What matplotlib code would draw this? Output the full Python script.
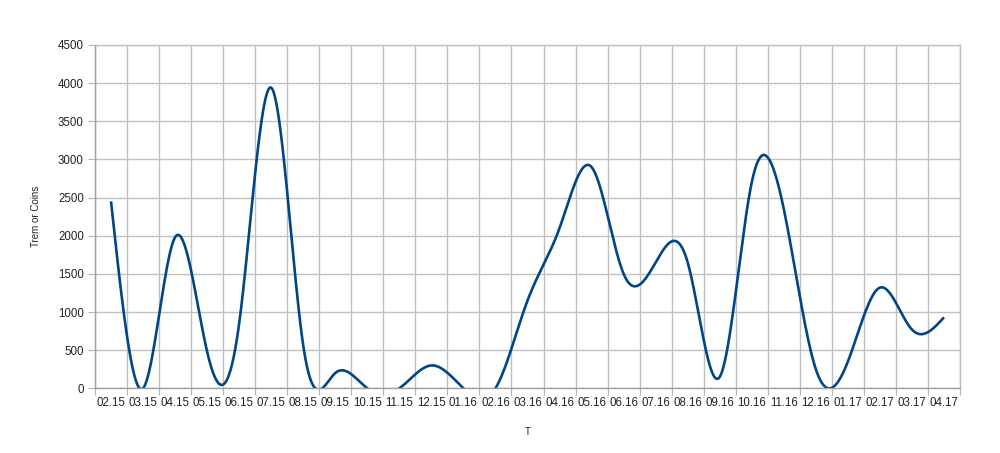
import numpy as np
import matplotlib
matplotlib.use('Agg')
import matplotlib.pyplot as plt

# monthly values
months = ['02.15', '03.15', '04.15', '05.15', '06.15', '07.15', '08.15', '09.15', '10.15',
          '11.15', '12.15', '01.16', '02.16', '03.16', '04.16', '05.16', '06.16', '07.16',
          '08.16', '09.16', '10.16', '11.16', '12.16', '01.17', '02.17', '03.17', '04.17']
coins = [2450, 0, 1980, 480, 850, 3940, 560, 200, 0,
         0, 300, 0, 0, 1150, 2100, 2900, 1500, 1650,
         1650, 150, 2700, 2350, 250, 350, 1320, 770, 930]


def natural_spline(x, y, xs):
    # plain natural cubic spline, only used to draw the smoothed line
    x = np.asarray(x, float)
    y = np.asarray(y, float)
    n = len(x)
    h = np.diff(x)
    A = np.zeros((n, n))
    b = np.zeros(n)
    A[0, 0] = 1
    A[-1, -1] = 1
    for i in range(1, n - 1):
        A[i, i - 1] = h[i - 1]
        A[i, i] = 2 * (h[i - 1] + h[i])
        A[i, i + 1] = h[i]
        b[i] = 6 * ((y[i + 1] - y[i]) / h[i] - (y[i] - y[i - 1]) / h[i - 1])
    m = np.linalg.solve(A, b)
    idx = np.clip(np.searchsorted(x, xs) - 1, 0, n - 2)
    x0, x1 = x[idx], x[idx + 1]
    hh = x1 - x0
    t0 = x1 - xs
    t1 = xs - x0
    return (m[idx] * t0**3 / (6 * hh) + m[idx + 1] * t1**3 / (6 * hh)
            + (y[idx] / hh - m[idx] * hh / 6) * t0
            + (y[idx + 1] / hh - m[idx + 1] * hh / 6) * t1)


pos = np.arange(len(months))
xs = np.linspace(0, len(months) - 1, 2000)
ys = natural_spline(pos, coins, xs)

plt.rcParams['font.family'] = ['Liberation Sans', 'DejaVu Sans']

fig = plt.figure(figsize=(10, 4.53), dpi=100)
ax = fig.add_axes([0.095, 0.1428, 0.865, 0.7579])

ax.plot(xs, ys, color='#004586', linewidth=1.9, solid_capstyle='butt')

ax.set_xlim(-0.5, len(months) - 0.5)
ax.set_ylim(0, 4500)
ax.set_yticks(np.arange(0, 4501, 500))

ax.set_xticks(np.arange(-0.5, len(months), 1.0))
ax.set_xticklabels([])
ax.set_xticks(pos, minor=True)
ax.set_xticklabels(months, minor=True)
ax.tick_params(axis='x', which='minor', length=0, pad=6, labelsize=8.3, labelcolor='#222222')
ax.tick_params(axis='x', which='major', length=5, color='#b3b3b3')
ax.tick_params(axis='y', length=5, color='#b3b3b3', labelsize=8.3, labelcolor='#222222', pad=3)

ax.grid(True, which='major', color='#c0c0c0', linewidth=1.0)
ax.set_axisbelow(True)
for s in ax.spines.values():
    s.set_color('#c0c0c0')
    s.set_linewidth(1.0)
ax.spines['left'].set_color('#a0a0a0')
ax.spines['bottom'].set_color('#a0a0a0')

ax.set_ylabel('Trem or Coins', fontsize=7, labelpad=12, color='#222222')
ax.set_xlabel('T', fontsize=7, labelpad=13, color='#222222')

fig.savefig('out.png', dpi=100)
